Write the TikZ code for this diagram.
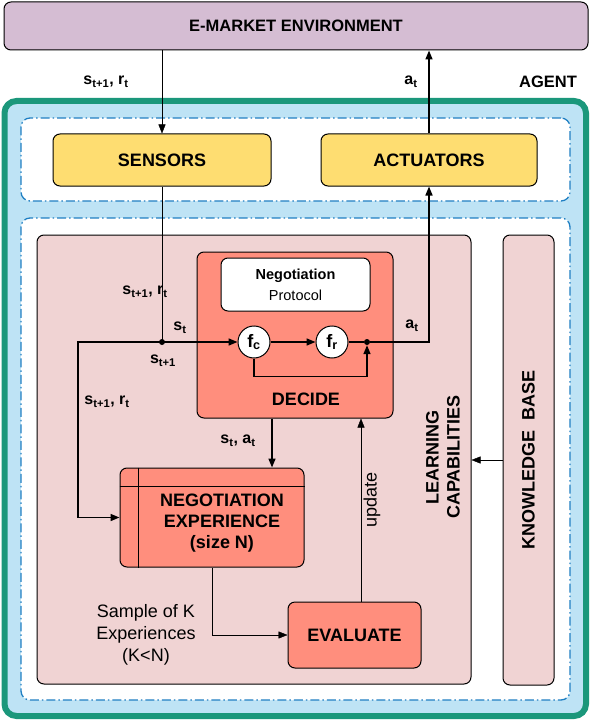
\documentclass[tikz,border=0pt]{standalone}
\usepackage{fontspec}
\setmainfont{Liberation Sans}
\usetikzlibrary{arrows.meta, positioning, calc}

\definecolor{envfill}{HTML}{D5BDD3}
\definecolor{agentfill}{HTML}{BEE3F5}
\definecolor{agentline}{HTML}{1B977B}
\definecolor{zoneline}{HTML}{1F7FC3}
\definecolor{sensfill}{HTML}{FEDD71}
\definecolor{learnfill}{HTML}{F0D3D3}
\definecolor{decfill}{HTML}{FF8E7D}

\begin{document}
\begin{tikzpicture}[x=1pt, y=-1pt,
    font=\bfseries\fontsize{18}{21}\selectfont,
    box/.style={draw, line width=1pt, rounded corners=7pt, inner sep=0pt},
    zone/.style={draw=zoneline, line width=1.3pt, fill=white, rounded corners=9pt,
        dash pattern=on 9pt off 3pt on 1.5pt off 3pt},
    lbl/.style={font=\bfseries\fontsize{16}{18}\selectfont},
    fn/.style={circle, draw, line width=1pt, fill=white, minimum size=32pt, inner sep=0pt},
    joint/.style={circle, fill, inner sep=0pt, minimum size=6pt},
    arr/.style={-{Triangle[length=9pt, width=7pt]}}]

    \useasboundingbox (0,0) rectangle (592,722);

    % Environment
    \node[box, fill=envfill, minimum width=584pt, minimum height=48pt] (env) at (296,26)
        {\fontsize{16.5}{20}\selectfont E-MARKET ENVIRONMENT};

    % Agent frame and its two zones
    \node[draw=agentline, line width=6pt, fill=agentfill, rounded corners=12pt,
        minimum width=581.5pt, minimum height=615pt] (agent) at (295.25,408.5) {};
    \node (agenttitle) at (548,82) {\fontsize{16.5}{20}\selectfont AGENT};
    \node[zone, minimum width=549pt, minimum height=83pt] (io) at (295.5,159.5) {};
    \node[zone, minimum width=549pt, minimum height=482pt] (core) at (295.5,459) {};

    % Sensors and actuators
    \node[box, fill=sensfill, minimum width=218pt, minimum height=52pt] (sensors) at (162,160) {SENSORS};
    \node[box, fill=sensfill, minimum width=216pt, minimum height=52pt] (actuators) at (429,160) {ACTUATORS};

    % Learning capabilities and knowledge base
    \node[box, fill=learnfill, minimum width=434pt, minimum height=449pt] (learn) at (254,459.5) {};
    \node[rotate=90, align=center] (learntxt) at (443,457) {LEARNING\\CAPABILITIES};
    \node[box, fill=learnfill, minimum width=51pt, minimum height=450pt] (kb) at (528.5,460) {};
    \node[rotate=90] (kbtxt) at (kb) {KNOWLEDGE\ \ BASE};

    % Decide block
    \node[box, fill=decfill, minimum width=196pt, minimum height=166pt] (decide) at (295,335) {};
    \node (decidetxt) at (306,399) {DECIDE};
    \node[box, fill=white, minimum width=149pt, minimum height=53pt, align=center] (protocol) at (295.5,284.5)
        {\fontsize{14.5}{19}\selectfont Negotiation\\\mdseries\fontsize{14.5}{19}\selectfont Protocol};
    \node[fn] (fc) at (254,342) {f\textsubscript{c}};
    \node[fn] (fr) at (332,342) {f\textsubscript{r}};
    \node[joint] (out) at (367,342) {};

    % Experience and evaluation
    \node[box, fill=decfill, minimum width=184pt, minimum height=99pt] (negexp) at (212,517.5) {};
    \draw[line width=1pt] ([xshift=19pt]negexp.north west) -- ([xshift=19pt]negexp.south west);
    \draw[line width=1pt] ([yshift=-19pt]negexp.north west) -- ([yshift=-19pt]negexp.north east);
    \node[align=center] (negtxt) at (222,523) {NEGOTIATION\\EXPERIENCE\\(size N)};
    \node[box, fill=decfill, minimum width=133pt, minimum height=66pt] (evaluate) at (354.5,635) {EVALUATE};

    % Environment links
    \draw[arr] (env.south -| sensors) -- (sensors.north);
    \draw[arr, line width=1.6pt] (actuators.north) -- (actuators.north |- env.south);
    \node[lbl] (obs) at (106,82) {s\textsubscript{t+1}, r\textsubscript{t}};
    \node[lbl] (act) at (411,82) {a\textsubscript{t}};

    % Inner links
    \coordinate (junc) at (sensors.south |- fc);
    \draw (sensors.south) -- (junc);
    \fill (junc) circle (3pt);
    \draw[arr, line width=1.6pt] (junc) -- (fc.west);
    \draw[arr, line width=1.6pt] (junc) -- ([xshift=-84pt]junc) |- (negexp.west);
    \draw[arr, line width=1.6pt] (fc.east) -- (fr.west);
    \draw[line width=1.6pt] (fr.east) -- (out);
    \draw[arr, line width=1.6pt] (fc.south) -- ++(0,18) -| (out.south);
    \draw[arr, line width=1.6pt] (out) -| (actuators.south);
    \draw[arr, line width=1.6pt] ([xshift=-23pt]decide.south) -- ([xshift=-23pt]decide.south |- negexp.north);
    \draw[arr] (negexp.south) |- (evaluate.west);
    \draw[arr] ([xshift=6.5pt]evaluate.north) -- ([xshift=6.5pt]evaluate.north |- decide.south);
    \draw[arr] (kb.west) -- (kb.west -| learn.east);

    % Labels
    \node[lbl] (l1) at (145,292) {s\textsubscript{t+1}, r\textsubscript{t}};
    \node[lbl] (l2) at (180,328) {s\textsubscript{t}};
    \node[lbl] (l3) at (163,361) {s\textsubscript{t+1}};
    \node[lbl] (l4) at (107,402) {s\textsubscript{t+1}, r\textsubscript{t}};
    \node[lbl] (l5) at (412,326) {a\textsubscript{t}};
    \node[lbl] (l6) at (238,441) {s\textsubscript{t}, a\textsubscript{t}};
    \node[rotate=90, font=\mdseries\fontsize{18}{21}\selectfont] (upd) at (372,500) {update};
    \node[align=center, font=\mdseries\fontsize{18}{22}\selectfont] (sample) at (146,635)
        {Sample of K\\Experiences\\(K<N)};
\end{tikzpicture}
\end{document}
